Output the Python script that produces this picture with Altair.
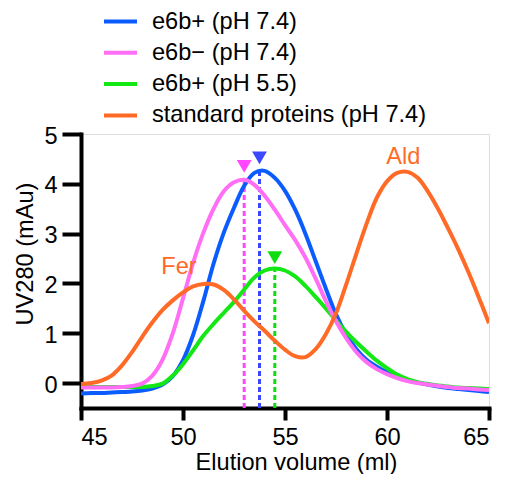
import altair as alt
import pandas as pd

# ---- data ----
volume = [45 + 0.5 * i for i in range(41)]

e6b_plus_74 = [-0.21, -0.20, -0.20, -0.19, -0.18, -0.17, -0.15, -0.11, -0.03, 0.14,
               0.46, 0.97, 1.65, 2.40, 3.02, 3.52, 3.96, 4.22, 4.26, 4.12,
               3.86, 3.48, 3.00, 2.45, 1.90, 1.38, 0.98, 0.68, 0.47, 0.33,
               0.22, 0.13, 0.06, 0.01, -0.03, -0.07, -0.10, -0.12, -0.14, -0.16, -0.18]
e6b_minus_74 = [-0.09, -0.09, -0.09, -0.09, -0.08, -0.06, -0.01, 0.15, 0.47, 1.00,
                1.70, 2.42, 3.02, 3.50, 3.85, 4.03, 4.08, 3.98, 3.76, 3.48,
                3.17, 2.87, 2.52, 2.10, 1.65, 1.24, 0.90, 0.62, 0.42, 0.28,
                0.18, 0.10, 0.04, 0.00, -0.03, -0.06, -0.08, -0.10, -0.11, -0.13, -0.14]
e6b_plus_55 = [-0.08, -0.08, -0.08, -0.08, -0.08, -0.08, -0.08, -0.06, -0.01, 0.15,
               0.38, 0.66, 0.95, 1.19, 1.41, 1.63, 1.88, 2.12, 2.26, 2.30,
               2.26, 2.14, 1.95, 1.73, 1.50, 1.26, 1.03, 0.82, 0.63, 0.45,
               0.30, 0.17, 0.08, 0.02, -0.02, -0.05, -0.07, -0.09, -0.10, -0.11, -0.12]
standards_74 = [-0.02, 0.00, 0.05, 0.15, 0.35, 0.62, 0.93, 1.22, 1.47, 1.66,
                1.82, 1.94, 1.99, 1.98, 1.87, 1.68, 1.45, 1.24, 1.05, 0.85,
                0.67, 0.54, 0.52, 0.68, 0.98, 1.40, 1.98, 2.60, 3.20, 3.72,
                4.05, 4.22, 4.24, 4.12, 3.85, 3.50, 3.10, 2.68, 2.22, 1.72, 1.20]

series_names = ["e6b+ (pH 7.4)", "e6b\u2212 (pH 7.4)", "e6b+ (pH 5.5)", "standard proteins (pH 7.4)"]
series_colors = ["#0A5CFF", "#FF6EF5", "#14E814", "#FF6A26"]
series_values = [e6b_plus_74, e6b_minus_74, e6b_plus_55, standards_74]
draw_order = [0, 2, 1, 3]

peak_volume = [53.75, 53.0, 54.5]
peak_height = [4.26, 4.08, 2.30]
marker_height = [4.52, 4.35, 2.52]
peak_colors = ["#3A48FF", "#FF48FF", "#10DD10"]
axis_floor = -0.5

label_text = ["Fer", "Ald"]
label_volume = [49.8, 60.8]
label_height = [2.33, 4.54]

FONT = "Liberation Sans"
FS = 23.6

rows = []
for name, vals in zip(series_names, series_values):
    for v, u in zip(volume, vals):
        rows.append({"series": name, "volume": v, "uv": u})
curves = pd.DataFrame(rows)

peaks = pd.DataFrame({"volume": peak_volume, "top": peak_height,
                      "bottom": [axis_floor] * 3, "marker": marker_height,
                      "c": peak_colors})
labels = pd.DataFrame({"text": label_text, "volume": label_volume, "uv": label_height})

xscale = alt.Scale(domain=[45, 65], nice=False, zero=False)
yscale = alt.Scale(domain=[-0.5, 5], nice=False, zero=False)

xaxis = alt.Axis(values=[45, 50, 55, 60, 65], title="Elution volume (ml)", grid=False,
                 domainWidth=4, domainColor="black", domainCap="square",
                 tickWidth=4, tickColor="black", tickSize=12,
                 labelFontSize=FS, labelPadding=5, labelColor="black", labelFont=FONT,
                 titleFontSize=FS, titleFont=FONT, titleFontWeight="normal", titleColor="black",
                 titleX=215, titleY=61.5, titleBaseline="alphabetic")
yaxis = alt.Axis(values=[0, 1, 2, 3, 4, 5], title="UV280 (mAu)", grid=False,
                 domainWidth=4, domainColor="black", domainCap="square",
                 tickWidth=4, tickColor="black", tickSize=19,
                 labelFontSize=FS, labelPadding=5, labelColor="black", labelFont=FONT,
                 labelOffset=2,
                 titleFontSize=FS, titleFont=FONT, titleFontWeight="normal", titleColor="black",
                 titleX=-49, titleY=119.5, titleBaseline="alphabetic", titleAngle=270)

color = alt.Color("series:N",
                  scale=alt.Scale(domain=series_names, range=series_colors),
                  sort=series_names,
                  legend=alt.Legend(orient="none", legendX=21, legendY=-131, title=None,
                                    symbolType="stroke", symbolStrokeWidth=4, symbolSize=1089,
                                    labelFontSize=FS, labelFont=FONT, labelColor="black",
                                    labelOffset=13, labelLimit=500, rowPadding=0.3, padding=0))

layers = []
for i in draw_order:
    layers.append(
        alt.Chart(curves).transform_filter(alt.datum.series == series_names[i])
        .mark_line(strokeWidth=4, interpolate="catmull-rom", clip=True)
        .encode(x=alt.X("volume:Q", scale=xscale, axis=xaxis),
                y=alt.Y("uv:Q", scale=yscale, axis=yaxis),
                color=color)
    )

rules = alt.Chart(peaks).mark_rule(strokeWidth=3, strokeDash=[5, 3]).encode(
    x="volume:Q", y="bottom:Q", y2="top:Q", color=alt.Color("c:N", scale=None))
tris = alt.Chart(peaks).mark_point(shape="triangle-down", filled=True, size=220, opacity=1).encode(
    x="volume:Q", y="marker:Q", color=alt.Color("c:N", scale=None))
texts = alt.Chart(labels).mark_text(fontSize=FS, font=FONT, color="#FF6A26", baseline="middle").encode(
    x="volume:Q", y="uv:Q", text="text:N")

chart = alt.layer(rules, *layers, tris, texts).properties(
    width=408, height=274,
    padding={"left": 73, "top": 126, "right": 13, "bottom": 66},
    autosize=alt.AutoSizeParams(type="none"),
).configure_view(stroke=None).configure(font=FONT)

chart.save("out.html", embed_options={"renderer": "svg", "actions": False})
